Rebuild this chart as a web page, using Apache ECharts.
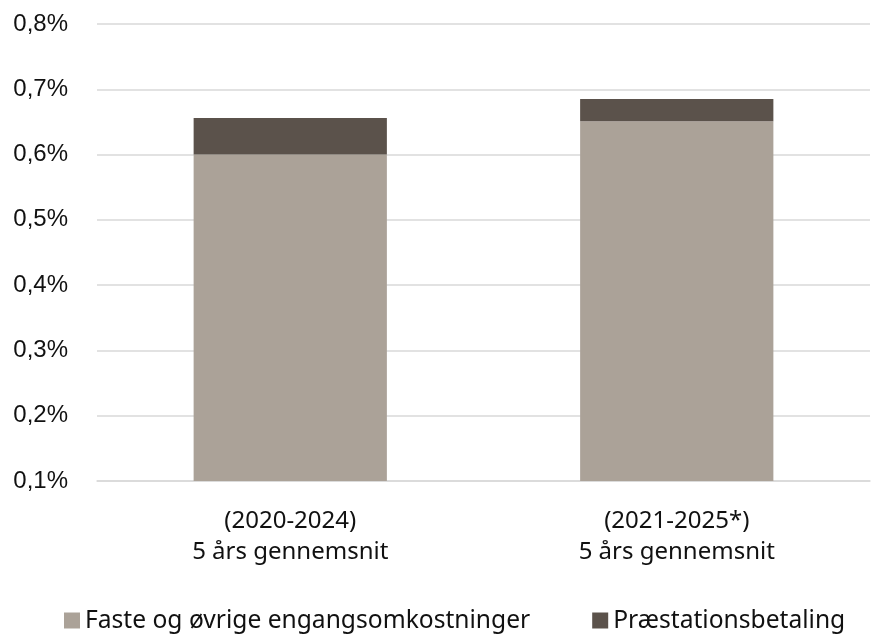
<!DOCTYPE html>
<html lang="da" style="height: 100%">
  <head>
    <meta charset="utf-8" />
    <title>Omkostninger</title>
  </head>
  <body style="height: 100%; margin: 0; background: #fff">
    <div id="container" style="width: 871px; height: 637px"></div>

    <script
      type="text/javascript"
      src="https://fastly.jsdelivr.net/npm/echarts@6/dist/echarts.min.js"
    ></script>

    <script type="text/javascript">
      var categories = ["(2020-2024)\n5 års gennemsnit", "(2021-2025*)\n5 års gennemsnit"];
      var seriesNames = ["Faste og øvrige engangsomkostninger", "Præstationsbetaling"];
      var fasteValues = [0.6, 0.651];
      var praestationValues = [0.056, 0.034];

      var textFont = "Noto Sans";
      var myChart = echarts.init(document.getElementById("container"), null, {
        renderer: "canvas",
      });

      var option = {
        backgroundColor: "#ffffff",
        animation: false,
        grid: { left: 97, right: 1, top: 24, bottom: 156 },
        legend: {
          top: 608,
          left: 64,
          padding: 0,
          icon: "rect",
          itemWidth: 16,
          itemHeight: 16,
          itemGap: 62,
          textStyle: { fontFamily: textFont, fontSize: 24.6, color: "#111" },
          data: seriesNames,
        },
        xAxis: {
          type: "category",
          data: categories,
          axisLine: { show: true, lineStyle: { color: "#d9d9d9", width: 1.5 } },
          axisTick: { show: false },
          axisLabel: {
            fontFamily: textFont,
            fontSize: 24,
            color: "#111",
            lineHeight: 31,
            margin: 25,
          },
        },
        yAxis: {
          type: "value",
          min: 0.1,
          max: 0.8,
          interval: 0.1,
          axisLine: { show: false },
          axisTick: { show: false },
          splitLine: { lineStyle: { color: "#d9d9d9", width: 1.5 } },
          axisLabel: {
            fontFamily: "Liberation Sans",
            fontSize: 24,
            color: "#111",
            margin: 29,
            formatter: function (v) {
              return v.toFixed(1).replace(".", ",") + "%";
            },
          },
        },
        series: [
          {
            name: seriesNames[0],
            type: "bar",
            stack: "total",
            barWidth: "50%",
            itemStyle: { color: "#aba298" },
            data: fasteValues,
          },
          {
            name: seriesNames[1],
            type: "bar",
            stack: "total",
            itemStyle: { color: "#5b524b" },
            data: praestationValues,
          },
        ],
      };

      myChart.setOption(option);
      window.addEventListener("resize", myChart.resize);
    </script>
  </body>
</html>
